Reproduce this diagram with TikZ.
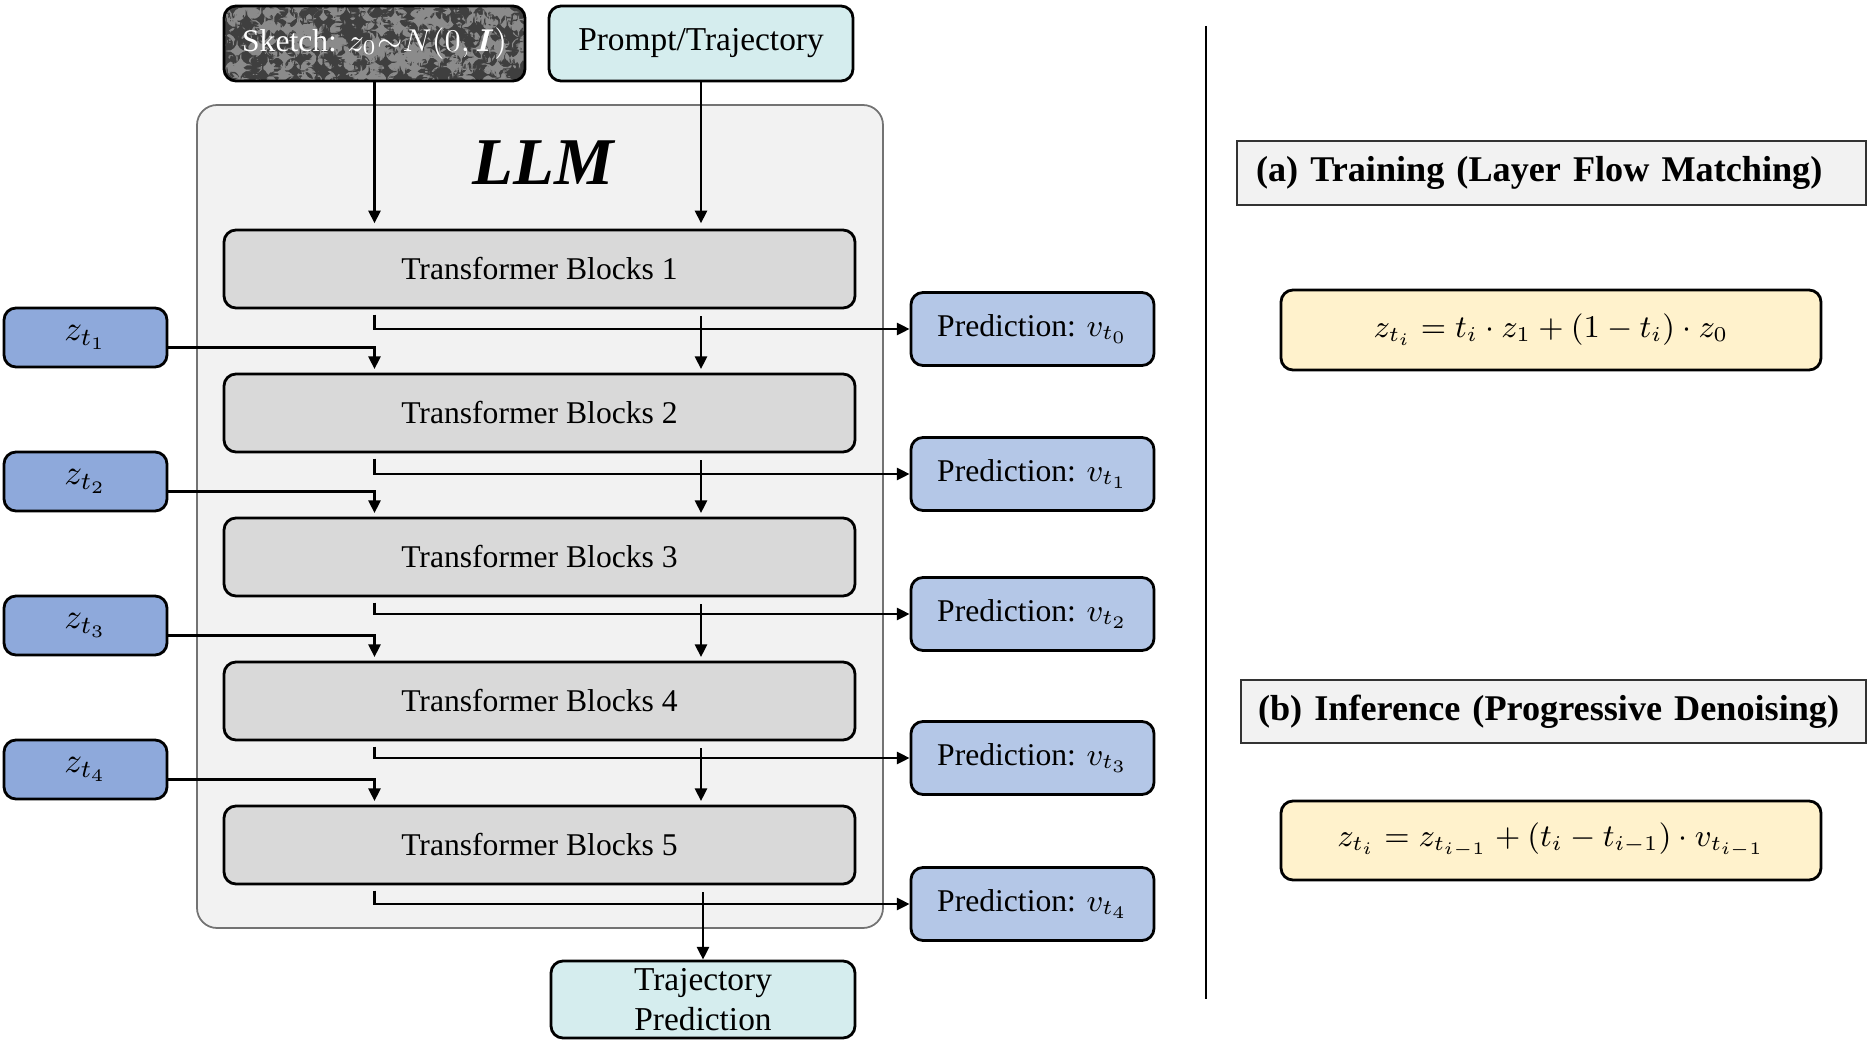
\documentclass[tikz,border=0pt]{standalone}
\usepackage{amsmath,amssymb}
\usepackage{fontspec}
\setmainfont{Liberation Serif}
\usepackage{tikz}
\usetikzlibrary{arrows.meta}
\usepackage{xcolor}
\definecolor{llmgray}{HTML}{F2F2F2}
\definecolor{blockgray}{HTML}{D9D9D9}
\definecolor{zblue}{HTML}{8EA9DB}
\definecolor{predblue}{HTML}{B4C7E7}
\definecolor{ioteal}{HTML}{D5EDEE}
\definecolor{eqyellow}{HTML}{FFF2CC}
\definecolor{noisegray}{HTML}{5A5A5A}

\begin{document}
\begin{tikzpicture}[>={Triangle[length=3.6pt,width=3.4pt]},line width=0.7pt,
  box/.style={draw,line width=0.8pt,rounded corners=1.2mm,align=center,inner sep=0pt,font=\fontsize{9}{11}\selectfont},
  blockbox/.style={box,fill=blockgray,minimum width=6.31cm,minimum height=0.78cm},
  zbox/.style={box,fill=zblue,minimum width=1.63cm,minimum height=0.59cm,font=\fontsize{10}{12}\selectfont},
  predbox/.style={box,fill=predblue,minimum width=2.43cm,minimum height=0.73cm},
  iobox/.style={box,fill=ioteal,minimum width=3.04cm,font=\fontsize{9.5}{11.5}\selectfont},
  sketchbox/.style={box,fill=noisegray,text=white,minimum width=3.01cm,minimum height=0.75cm,
    path picture={\pgfmathsetseed{11}
      \foreach \k in {1,...,1000}{
        \fill[white!30!noisegray] (path picture bounding box.south west) ++(3.05*rnd,0.8*rnd) rectangle ++(0.013,0.013);
        \fill[black!30!noisegray] (path picture bounding box.south west) ++(3.05*rnd,0.8*rnd) rectangle ++(0.013,0.013);}}},
  headbox/.style={draw=black!80,line width=0.8pt,fill=llmgray,inner sep=0pt,text width=5.91cm,align=left,font=\bfseries\fontsize{10.3}{12}\selectfont},
  eqbox/.style={box,fill=eqyellow,minimum width=5.4cm,minimum height=0.8cm,font=\fontsize{9.1}{11}\selectfont}]
\useasboundingbox (0,0) rectangle (18.70,10.41);

% left part: the LLM
\node[draw=black!55,line width=0.5pt,fill=llmgray,rounded corners=2mm,minimum width=6.86cm,minimum height=8.23cm] (llm) at (5.40,5.245) {};
\node[font=\bfseries\itshape\fontsize{19}{22}\selectfont] (llmtitle) at (5.43,8.78) {LLM};

\node[sketchbox] (sketch) at (3.745,9.975) {Sketch: $z_0{\sim}N(0,\boldsymbol{I})$};
\node[iobox,minimum height=0.75cm] (prompt) at (7.01,9.975) {Prompt/Trajectory};

\node[blockbox] (b1) at (5.395,7.72) {Transformer Blocks 1};
\node[blockbox] (b2) at (5.395,6.28) {Transformer Blocks 2};
\node[blockbox] (b3) at (5.395,4.84) {Transformer Blocks 3};
\node[blockbox] (b4) at (5.395,3.40) {Transformer Blocks 4};
\node[blockbox] (b5) at (5.395,1.96) {Transformer Blocks 5};

\node[zbox] (z1) at (0.855,7.035) {$z_{t_1}$};
\node[zbox] (z2) at (0.855,5.595) {$z_{t_2}$};
\node[zbox] (z3) at (0.855,4.155) {$z_{t_3}$};
\node[zbox] (z4) at (0.855,2.715) {$z_{t_4}$};

\node[predbox] (p0) at (10.325,7.12) {Prediction: $v_{t_0}$};
\node[predbox] (p1) at (10.325,5.67) {Prediction: $v_{t_1}$};
\node[predbox] (p2) at (10.325,4.27) {Prediction: $v_{t_2}$};
\node[predbox] (p3) at (10.325,2.83) {Prediction: $v_{t_3}$};
\node[predbox] (p4) at (10.325,1.37) {Prediction: $v_{t_4}$};

\node[iobox,minimum height=0.77cm] (traj) at (7.03,0.415) {Trajectory\\Prediction};

% inputs
\draw[->,shorten >=1.5pt] (sketch.south) -- (sketch.south |- b1.north);
\draw[->,shorten >=1.5pt] (prompt.south) -- (prompt.south |- b1.north);

% block 1 -> 2
\draw[->,shorten <=1.5pt] (b1.south -| sketch.south) |- (p0.west);
\draw[->,shorten <=2pt,shorten >=1pt] (b1.south -| prompt.south) -- (b2.north -| prompt.south);
\draw[->,shorten >=1pt] ([yshift=-1mm]z1.east) -| (b2.north -| sketch.south);
% block 2 -> 3
\draw[->,shorten <=1.5pt] (b2.south -| sketch.south) |- (p1.west);
\draw[->,shorten <=2pt,shorten >=1pt] (b2.south -| prompt.south) -- (b3.north -| prompt.south);
\draw[->,shorten >=1pt] ([yshift=-1mm]z2.east) -| (b3.north -| sketch.south);
% block 3 -> 4
\draw[->,shorten <=1.5pt] (b3.south -| sketch.south) |- (p2.west);
\draw[->,shorten <=2pt,shorten >=1pt] (b3.south -| prompt.south) -- (b4.north -| prompt.south);
\draw[->,shorten >=1pt] ([yshift=-1mm]z3.east) -| (b4.north -| sketch.south);
% block 4 -> 5
\draw[->,shorten <=1.5pt] (b4.south -| sketch.south) |- (p3.west);
\draw[->,shorten <=2pt,shorten >=1pt] (b4.south -| prompt.south) -- (b5.north -| prompt.south);
\draw[->,shorten >=1pt] ([yshift=-1mm]z4.east) -| (b5.north -| sketch.south);
% block 5 -> outputs
\draw[->,shorten <=1.5pt] (b5.south -| sketch.south) |- (p4.west);
\draw[->,shorten <=2pt] (b5.south -| traj.north) -- (traj.north);

% right part: formulas
\draw[line width=0.6pt] (12.06,10.15) -- (12.06,0.42);

\node[headbox,minimum width=6.29cm,minimum height=0.64cm] (train) at (15.515,8.68) {(a) Training (Layer Flow Matching)};
\node[eqbox] (traineq) at (15.51,7.11) {$z_{t_i} = t_i\cdot z_1 + (1-t_i)\cdot z_0$};
\node[headbox,minimum width=6.25cm,minimum height=0.63cm] (infer) at (15.535,3.295) {(b) Inference (Progressive Denoising)};
\node[eqbox,minimum height=0.79cm] (infereq) at (15.51,2.005) {$z_{t_i} = z_{t_{i-1}} + (t_i - t_{i-1})\cdot v_{t_{i-1}}$};
\end{tikzpicture}
\end{document}
